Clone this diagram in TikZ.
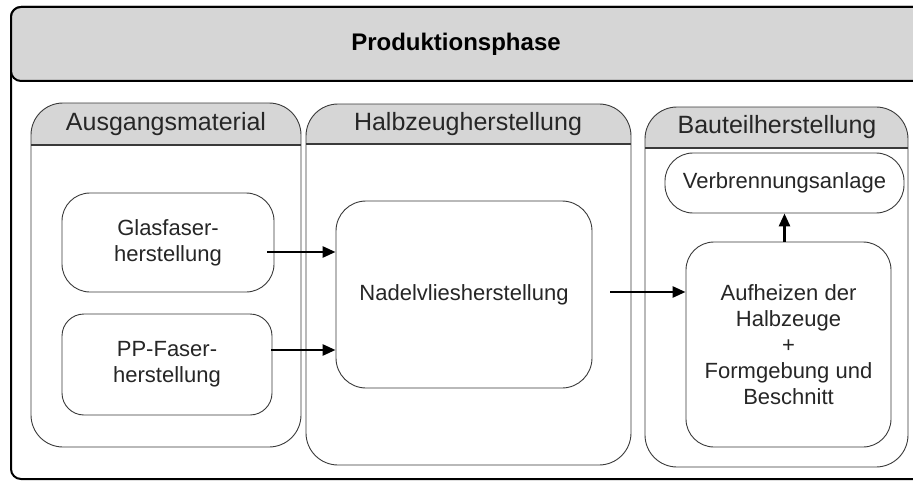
\documentclass[tikz,border=0pt]{standalone}
\usepackage{fontspec}
\setmainfont{Liberation Sans}
\usetikzlibrary{arrows.meta,calc}
\definecolor{band}{HTML}{D6D6D6}
\definecolor{ink}{HTML}{262626}
\definecolor{edge}{HTML}{3A3A3A}

\begin{document}
\begin{tikzpicture}[x=1pt,y=-1pt,
  frame/.style={draw=black,line width=2pt,rounded corners=10pt},
  column/.style={draw=edge,line width=0.9pt,rounded corners=32pt},
  headline/.style={draw=edge,line width=1.3pt},
  colhead/.style={font=\fontsize{25}{28}\selectfont,text=ink,inner sep=0pt},
  task/.style={draw=edge,line width=0.9pt,align=center,
    font=\fontsize{22}{26}\selectfont,text=ink,inner sep=0pt},
  flow/.style={draw=black,line width=2.7pt,
    -{Stealth[length=13pt,width=11pt,inset=0pt]}}
]
\useasboundingbox (0,0) rectangle (913,484);
\fill[white] (0,0) rectangle (913,484);

% outer frame and title band
\draw[frame] (11,7) rectangle (930,479);
\draw[frame,fill=band] (11,7) rectangle (930,81);
\node[font=\bfseries\fontsize{24}{28}\selectfont,text=black] (title) at (456,44) {Produktionsphase};

% phase columns: gray header strip clipped to the rounded outline
\begin{scope}
  \clip[rounded corners=32pt] (31,103) rectangle (301,447);
  \fill[band] (31,103) rectangle (301,145);
\end{scope}
\draw[column] (31,103) rectangle (301,447);
\draw[headline] (31,145) -- (301,145);
\node[colhead] (h1) at (166,124) {Ausgangsmaterial};

\begin{scope}
  \clip[rounded corners=32pt] (306,104) rectangle (631,465);
  \fill[band] (306,104) rectangle (631,144);
\end{scope}
\draw[column] (306,104) rectangle (631,465);
\draw[headline] (306,144) -- (631,144);
\node[colhead] (h2) at (468,124) {Halbzeugherstellung};

\begin{scope}
  \clip[rounded corners=32pt] (645,107) rectangle (908,467);
  \fill[band] (645,107) rectangle (908,148);
\end{scope}
\draw[column] (645,107) rectangle (908,467);
\draw[headline] (645,148) -- (908,148);
\node[colhead] (h3) at (777,127) {Bauteilherstellung};

% process steps
\node[task,rounded corners=28pt,minimum width=212pt,minimum height=99pt]
  (glas) at (168,242.5) {Glasfaser-\\herstellung};
\node[task,rounded corners=22pt,minimum width=210pt,minimum height=101pt]
  (pp) at (167,364.5) {PP-Faser-\\herstellung};
\node[task,rounded corners=30pt,minimum width=256pt,minimum height=187pt]
  (nadel) at (464,294.5) {Nadelvliesherstellung};
\node[task,rounded corners=28pt,minimum width=239pt,minimum height=60pt]
  (verb) at (784.5,183) {Verbrennungsanlage};
\node[task,rounded corners=28pt,minimum width=205pt,minimum height=205pt]
  (auf) at (788.5,344.5) {Aufheizen der\\Halbzeuge\\+\\Formgebung und\\Beschnitt};

% material flow
\coordinate (g0) at ($(glas.east)+(-7,9.5)$);
\coordinate (p0) at ($(pp.east)+(-1,-14.5)$);
\coordinate (n0) at ($(nadel.east)+(18,-2.5)$);
\draw[flow] (g0) -- (g0 -| nadel.west);
\draw[flow] (p0) -- (p0 -| nadel.west);
\draw[flow] (n0) -- (n0 -| auf.west);
\draw[flow] (verb.south |- auf.north) -- (verb.south);
\end{tikzpicture}
\end{document}
